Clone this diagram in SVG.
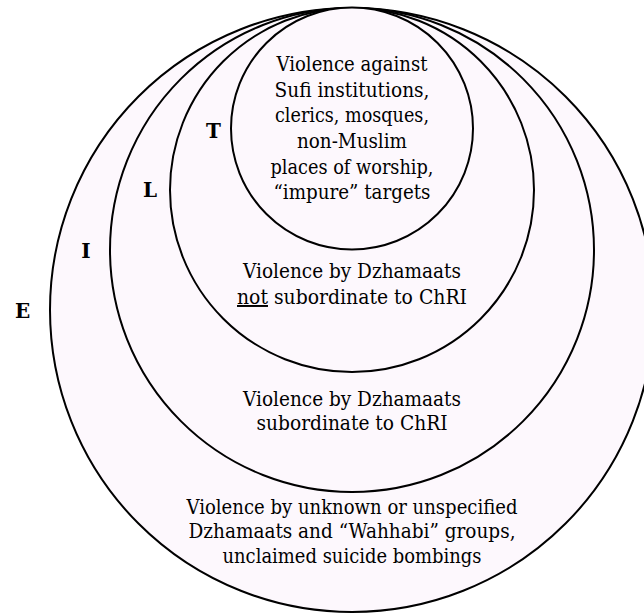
<svg xmlns="http://www.w3.org/2000/svg" width="644" height="614" viewBox="0 0 644 614">
<style>
.ring{fill:#fdf8fd;stroke:#000;stroke-width:2}
.t{font-size:19.5px;fill:#000;text-anchor:middle}
.lbl{font-size:20px;font-weight:bold;fill:#000;text-anchor:middle}
</style>
<rect width="644" height="614" fill="#fff"/>
<g font-family="'DejaVu Serif', 'Liberation Serif', serif">
<g id="node-E">
<circle class="ring" cx="352" cy="310" r="302"/>
<text class="lbl" x="22.5" y="318">E</text>
<text class="t" x="352" y="514" textLength="331" lengthAdjust="spacingAndGlyphs">Violence by unknown or unspecified</text>
<text class="t" x="352" y="538" textLength="327" lengthAdjust="spacingAndGlyphs">Dzhamaats and “Wahhabi” groups,</text>
<text class="t" x="352" y="563" textLength="259" lengthAdjust="spacingAndGlyphs">unclaimed suicide bombings</text>
</g>
<g id="node-I">
<circle class="ring" cx="352" cy="250" r="242"/>
<text class="lbl" x="86" y="258">I</text>
<text class="t" x="352" y="406" textLength="218" lengthAdjust="spacingAndGlyphs">Violence by Dzhamaats</text>
<text class="t" x="352" y="430" textLength="191" lengthAdjust="spacingAndGlyphs">subordinate to ChRI</text>
</g>
<g id="node-L">
<circle class="ring" cx="352" cy="190" r="182"/>
<text class="lbl" x="150" y="197">L</text>
<text class="t" x="352" y="278" textLength="218" lengthAdjust="spacingAndGlyphs">Violence by Dzhamaats</text>
<text class="t" x="352" y="304" textLength="230" lengthAdjust="spacingAndGlyphs"><tspan style="text-decoration:underline">not</tspan> subordinate to ChRI</text>
</g>
<g id="node-T">
<circle class="ring" cx="352" cy="128.5" r="121"/>
<text class="lbl" x="213.5" y="138">T</text>
<text class="t" x="352" y="71" textLength="151" lengthAdjust="spacingAndGlyphs">Violence against</text>
<text class="t" x="352" y="96.5" textLength="155" lengthAdjust="spacingAndGlyphs">Sufi institutions,</text>
<text class="t" x="352" y="122" textLength="154" lengthAdjust="spacingAndGlyphs">clerics, mosques,</text>
<text class="t" x="352" y="148" textLength="110" lengthAdjust="spacingAndGlyphs">non-Muslim</text>
<text class="t" x="352" y="173.5" textLength="163" lengthAdjust="spacingAndGlyphs">places of worship,</text>
<text class="t" x="352" y="199" textLength="157" lengthAdjust="spacingAndGlyphs">“impure” targets</text>
</g>
</g>
</svg>
